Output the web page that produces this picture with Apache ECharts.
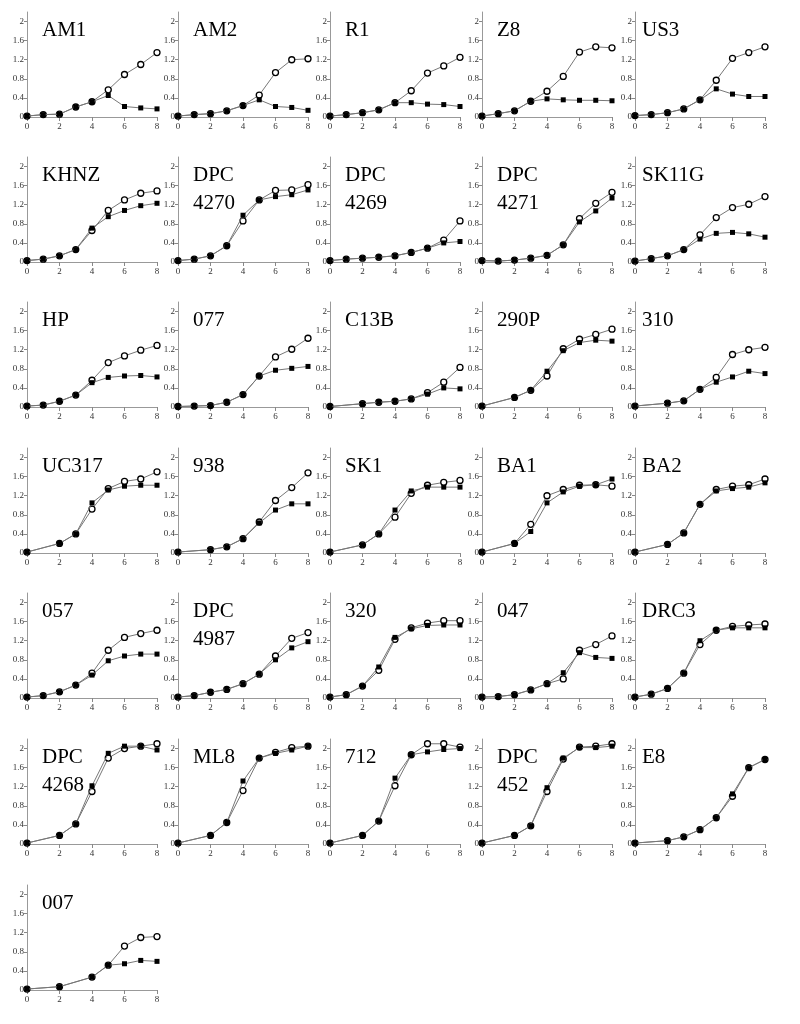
<!DOCTYPE html>
<html lang="en">
<head>
  <meta charset="UTF-8">
  <title>growth curves</title>
  <style>
    html, body { margin: 0; padding: 0; background: #fff; }
    #chart { width: 800px; height: 1024px; }
  </style>
</head>
<body>
  <div id="chart"></div>
  <script src="https://cdn.jsdelivr.net/npm/echarts@6/dist/echarts.min.js"></script>
  <script>
    // panel names, left to right, top to bottom
    const names = ['AM1', 'AM2', 'R1', 'Z8', 'US3',
      'KHNZ', 'DPC\n4270', 'DPC\n4269', 'DPC\n4271', 'SK11G',
      'HP', '077', 'C13B', '290P', '310',
      'UC317', '938', 'SK1', 'BA1', 'BA2',
      '057', 'DPC\n4987', '320', '047', 'DRC3',
      'DPC\n4268', 'ML8', '712', 'DPC\n452', 'E8',
      '007']

    // sampling times
    const xFull = [0, 1, 2, 3, 4, 5, 6, 7, 8]
    const xNo1 = [0, 2, 3, 4, 5, 6, 7, 8]
    const x007 = [0, 2, 4, 5, 6, 7, 8]
    const panelX = [
      xFull, xFull, xFull, xFull, xFull,
      xFull, xFull, xFull, xFull, xFull,
      xFull, xFull, xNo1, xNo1, xNo1,
      xNo1, xNo1, xNo1, xNo1, xNo1,
      xFull, xFull, xFull, xFull, xFull,
      xNo1, xNo1, xNo1, xNo1, xNo1,
      x007
    ]

    // filled squares
    const squares = [
      [.02, .05, .06, .21, .32, .45, .22, .19, .17],
      [.02, .05, .07, .13, .24, .36, .22, .20, .14],
      [.02, .05, .09, .15, .30, .30, .27, .26, .22],
      [.02, .07, .13, .33, .38, .36, .35, .35, .34],
      [.03, .05, .09, .17, .36, .59, .48, .43, .43],
      [.03, .06, .13, .26, .71, .95, 1.08, 1.18, 1.23],
      [.03, .06, .13, .34, .98, 1.30, 1.37, 1.41, 1.51],
      [.03, .06, .08, .10, .13, .20, .29, .40, .43],
      [.03, .02, .04, .08, .14, .36, .84, 1.07, 1.34],
      [.02, .07, .13, .26, .48, .60, .62, .59, .52],
      [.02, .04, .12, .25, .51, .62, .65, .66, .63],
      [.01, .02, .03, .10, .26, .65, .77, .81, .85],
      [.01, .07, .10, .12, .17, .27, .40, .38],
      [.02, .20, .35, .75, 1.18, 1.35, 1.40, 1.38],
      [.02, .08, .13, .37, .52, .63, .75, .70],
      [.02, .20, .40, 1.05, 1.32, 1.40, 1.42, 1.42],
      [.02, .07, .13, .30, .63, .90, 1.03, 1.03],
      [.02, .17, .40, .90, 1.30, 1.38, 1.38, 1.38],
      [.02, .20, .45, 1.05, 1.28, 1.40, 1.43, 1.55],
      [.02, .18, .42, 1.02, 1.30, 1.35, 1.38, 1.47],
      [.02, .05, .13, .27, .48, .78, .88, .92, .92],
      [.02, .05, .12, .18, .30, .50, .80, 1.05, 1.18],
      [.02, .07, .25, .65, 1.27, 1.45, 1.52, 1.53, 1.53],
      [.02, .03, .07, .17, .30, .53, .95, .85, .83],
      [.02, .08, .20, .52, 1.20, 1.42, 1.47, 1.47, 1.47],
      [.02, .18, .42, 1.22, 1.90, 2.05, 2.05, 1.97],
      [.02, .18, .45, 1.32, 1.80, 1.90, 1.97, 2.05],
      [.02, .18, .48, 1.38, 1.87, 1.93, 1.98, 2.00],
      [.02, .18, .38, 1.18, 1.80, 2.02, 2.02, 2.05],
      [.02, .07, .15, .30, .55, 1.05, 1.60, 1.77],
      [.02, .07, .27, .52, .55, .62, .60]
    ]

    // open circles
    const circles = [
      [.02, .05, .06, .21, .32, .57, .89, 1.10, 1.35],
      [.02, .05, .07, .13, .24, .46, .93, 1.20, 1.22],
      [.02, .05, .09, .15, .30, .55, .92, 1.07, 1.25],
      [.02, .07, .13, .33, .54, .85, 1.36, 1.47, 1.45],
      [.03, .05, .09, .17, .36, .77, 1.23, 1.35, 1.47],
      [.03, .06, .13, .26, .66, 1.08, 1.30, 1.44, 1.49],
      [.03, .06, .13, .34, .86, 1.30, 1.50, 1.51, 1.62],
      [.03, .06, .08, .10, .13, .20, .29, .46, .86],
      [.03, .02, .04, .08, .14, .36, .91, 1.23, 1.46],
      [.02, .07, .13, .26, .57, .93, 1.14, 1.21, 1.37],
      [.02, .04, .12, .25, .56, .93, 1.07, 1.19, 1.29],
      [.01, .02, .03, .10, .26, .65, 1.05, 1.21, 1.44],
      [.01, .07, .10, .12, .17, .30, .52, .83],
      [.02, .20, .35, .65, 1.22, 1.42, 1.52, 1.63],
      [.02, .08, .13, .37, .62, 1.10, 1.20, 1.25],
      [.02, .20, .40, .92, 1.35, 1.50, 1.55, 1.70],
      [.02, .07, .13, .30, .65, 1.10, 1.37, 1.68],
      [.02, .17, .40, .75, 1.25, 1.42, 1.48, 1.52],
      [.02, .20, .60, 1.20, 1.33, 1.42, 1.43, 1.40],
      [.02, .18, .42, 1.02, 1.33, 1.40, 1.43, 1.55],
      [.02, .05, .13, .27, .52, 1.00, 1.27, 1.35, 1.42],
      [.02, .05, .12, .18, .30, .50, .88, 1.25, 1.37],
      [.02, .07, .25, .58, 1.23, 1.47, 1.57, 1.62, 1.62],
      [.02, .03, .07, .17, .30, .40, 1.00, 1.12, 1.30],
      [.02, .08, .20, .52, 1.12, 1.42, 1.50, 1.53, 1.55],
      [.02, .18, .42, 1.10, 1.80, 2.00, 2.05, 2.10],
      [.02, .18, .45, 1.12, 1.80, 1.92, 2.02, 2.05],
      [.02, .18, .48, 1.22, 1.87, 2.10, 2.10, 2.03],
      [.02, .18, .38, 1.10, 1.78, 2.03, 2.05, 2.10],
      [.02, .07, .15, .30, .55, 1.00, 1.60, 1.77],
      [.02, .07, .27, .52, .92, 1.10, 1.12]
    ]

    const yTicks = [0, 0.4, 0.8, 1.2, 1.6, 2]

    // layout of the 5 x 7 grid (pixels)
    const colLeft = [27, 178, 330, 482, 635]
    const rowZero = [117, 262, 407, 553, 698, 844, 990]
    const plotW = 130
    const plotH = 105

    const grid = [], xAxis = [], yAxis = [], series = [], title = []

    names.forEach((name, i) => {
      const c = i % 5
      const r = Math.floor(i / 5)
      const left = colLeft[c]
      const top = rowZero[r] - plotH

      grid.push({ left, top, width: plotW, height: plotH, containLabel: false, outerBoundsMode: 'none' })

      xAxis.push({
        gridIndex: i, type: 'value', min: 0, max: 8, interval: 2,
        axisLine: { lineStyle: { color: '#999', width: 1 } },
        axisTick: { show: true, length: 4, lineStyle: { color: '#888' } },
        axisLabel: { fontFamily: 'Liberation Serif', fontSize: 9, color: '#333', margin: 5 },
        splitLine: { show: false }
      })

      yAxis.push({
        gridIndex: i, type: 'value', min: 0, max: 2.2,
        axisLine: { show: true, lineStyle: { color: '#999', width: 1 } },
        axisTick: { show: true, length: 3, customValues: yTicks, lineStyle: { color: '#888' } },
        axisLabel: {
          fontFamily: 'Liberation Serif', fontSize: 9, color: '#333', margin: 3,
          customValues: yTicks
        },
        splitLine: { show: false }
      })

      const xs = panelX[i]
      series.push({
        type: 'line', xAxisIndex: i, yAxisIndex: i,
        data: xs.map((x, k) => [x, circles[i][k]]),
        symbol: 'circle', symbolSize: 6,
        lineStyle: { color: '#777', width: 1 },
        itemStyle: { color: '#fff', borderColor: '#000', borderWidth: 1.3 },
        animation: false, silent: true, z: 2
      })
      series.push({
        type: 'line', xAxisIndex: i, yAxisIndex: i,
        data: xs.map((x, k) => [x, squares[i][k]]),
        symbol: 'rect', symbolSize: 5,
        lineStyle: { color: '#777', width: 1 },
        itemStyle: { color: '#000' },
        animation: false, silent: true, z: 3
      })

      title.push({
        text: name,
        left: left + (c === 4 ? 7 : 15),
        top: top + 4,
        padding: 0,
        textStyle: {
          fontFamily: 'Liberation Serif', fontSize: 21, fontWeight: 'normal',
          color: '#000', lineHeight: 28
        }
      })
    })

    const chart = echarts.init(document.getElementById('chart'))
    chart.setOption({
      animation: false,
      title,
      grid,
      xAxis,
      yAxis,
      series
    })
  </script>
</body>
</html>
